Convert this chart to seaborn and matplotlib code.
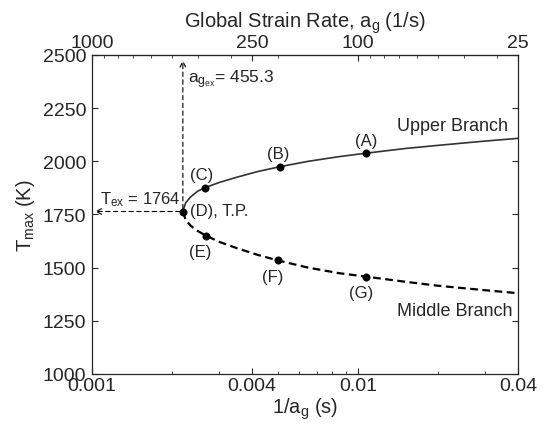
import numpy as np
import matplotlib
matplotlib.use('Agg')
import matplotlib.pyplot as plt
import seaborn as sns

# values
upper_x = [0.002196, 0.00225, 0.00235, 0.0025, 0.00266, 0.0030, 0.0035, 0.0042,
           0.0051, 0.0065, 0.0085, 0.0107, 0.015, 0.02, 0.03, 0.04]
upper_T = [1764, 1805, 1833, 1860, 1876, 1900, 1925, 1952,
           1975, 2000, 2022, 2038, 2060, 2075, 2095, 2108]
middle_x = [0.002196, 0.00225, 0.00235, 0.0025, 0.00269, 0.0030, 0.0035, 0.0042,
            0.0050, 0.0065, 0.0085, 0.0107, 0.015, 0.02, 0.03, 0.04]
middle_T = [1764, 1725, 1697, 1672, 1650, 1622, 1592, 1560,
            1534, 1500, 1474, 1458, 1434, 1415, 1394, 1380]

pt_labels = ['(A)', '(B)', '(C)', '(D), T.P.', '(E)', '(F)', '(G)']
pt_x = [0.0107, 0.0051, 0.00266, 0.002196, 0.00269, 0.0050, 0.0107]
pt_T = [2038, 1975, 1876, 1764, 1650, 1534, 1458]

a_gex = 455.3
T_ex = 1764

bottom_ticks = [0.001, 0.004, 0.01, 0.04]
bottom_labels = ['0.001', '0.004', '0.01', '0.04']
top_ticks = [1000, 250, 100, 25]
y_ticks = [1000, 1250, 1500, 1750, 2000, 2250, 2500]

sns.set_style('ticks')
plt.rcParams['font.family'] = ['Liberation Sans', 'DejaVu Sans']
plt.rcParams['mathtext.fontset'] = 'custom'
plt.rcParams['mathtext.rm'] = 'Liberation Sans'
plt.rcParams['mathtext.it'] = 'Liberation Sans'

fig = plt.figure(figsize=(5.5, 4.27), dpi=100)
ax = fig.add_axes([0.1673, 0.1218, 0.7745, 0.7471])

sns.lineplot(x=upper_x, y=upper_T, ax=ax, color='#333333', lw=1.2, sort=False)
sns.lineplot(x=middle_x, y=middle_T, ax=ax, color='black', lw=1.6, sort=False,
             linestyle=(0, (3.5, 2)))
sns.scatterplot(x=pt_x, y=pt_T, ax=ax, color='black', s=28, edgecolor='black', zorder=5)

ax.set_xscale('log')
ax.set_xlim(0.001, 0.04)
ax.set_ylim(1000, 2500)

# label offsets in points and alignment
offsets = {'(A)': (0, 9.5, 'center'), '(B)': (-1.5, 9.7, 'center'),
           '(C)': (-2.6, 9.5, 'center'), '(D), T.P.': (5, 1, 'left'),
           '(E)': (-4.3, -11, 'center'), '(F)': (-3.6, -11.5, 'center'),
           '(G)': (-3, -11.4, 'center')}
for lab, xx, tt in zip(pt_labels, pt_x, pt_T):
    dx, dy, ha = offsets[lab]
    ax.annotate(lab, (xx, tt), xytext=(dx, dy), textcoords='offset points',
                ha=ha, va='center', fontsize=12)

# turning point guides
ax.annotate('', xy=(1 / a_gex, 2488), xytext=(1 / a_gex, T_ex),
            arrowprops=dict(arrowstyle='->', ls=(0, (4, 3)), lw=0.8, color='black'))
ax.annotate('', xy=(0.001, T_ex), xytext=(1 / a_gex, T_ex),
            arrowprops=dict(arrowstyle='->', ls=(0, (4, 3)), lw=0.8, color='black'))
ax.text(0.0023, 2387, r'a$_{\mathregular{g}_{\mathregular{ex}}}$= 455.3',
        fontsize=12.5, va='center')
ax.text(0.00107, 1823, r'T$_{\rm ex}$ = 1764', fontsize=12, va='center')

ax.text(0.01403, 2168, 'Upper Branch', fontsize=13, va='center')
ax.text(0.01403, 1298, 'Middle Branch', fontsize=13, va='center')

ax.set_xticks(bottom_ticks)
ax.set_xticklabels(bottom_labels)
ax.set_yticks(y_ticks)
ax.tick_params(axis='both', which='both', direction='in', labelsize=14)
ax.tick_params(axis='both', which='major', length=4.5)
ax.tick_params(axis='x', which='minor', length=2.5)
ax.tick_params(axis='x', pad=2)
ax.tick_params(axis='y', right=True, pad=4)
ax.xaxis.set_minor_formatter(matplotlib.ticker.NullFormatter())
ax.set_xlabel(r'1/a$_{\rm g}$ (s)', fontsize=14.5, labelpad=1)
ax.set_ylabel(r'T$_{\rm max}$ (K)', fontsize=14.5, labelpad=4)

top = ax.secondary_xaxis('top', functions=(lambda v: 1 / v, lambda v: 1 / v))
top.set_xticks(top_ticks)
top.set_xticklabels([str(t) for t in top_ticks])
top.xaxis.set_minor_formatter(matplotlib.ticker.NullFormatter())
top.tick_params(which='both', direction='in', labelsize=14, pad=3)
top.tick_params(which='major', length=4.5)
top.tick_params(which='minor', length=2.5)
top.set_xlabel(r'Global Strain Rate, a$_{\rm g}$ (1/s)', fontsize=14.5, labelpad=5)

for sp in ax.spines.values():
    sp.set_linewidth(0.9)

fig.savefig('out.png', dpi=100)
